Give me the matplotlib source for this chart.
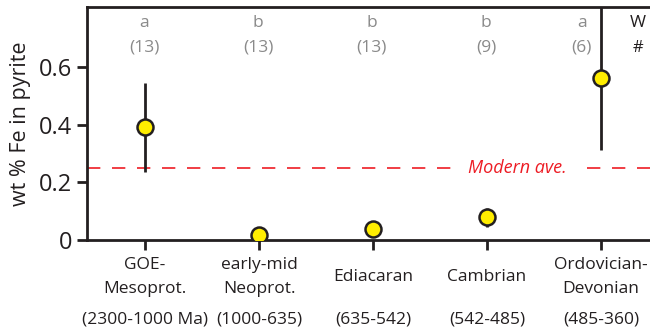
import matplotlib
matplotlib.use('Agg')
import matplotlib.pyplot as plt

plt.rcParams['font.family'] = ['Open Sans', 'DejaVu Sans']

# data
periods = ['GOE-\nMesoprot.', 'early-mid\nNeoprot.', 'Ediacaran', 'Cambrian', 'Ordovician-\nDevonian']
ages = ['(2300-1000 Ma)', '(1000-635)', '(635-542)', '(542-485)', '(485-360)']
fe_mean = [0.39, 0.017, 0.038, 0.08, 0.56]
err_low = [0.235, 0.005, 0.03, 0.045, 0.31]
err_high = [0.545, 0.03, 0.048, 0.11, 0.95]
letters = ['a', 'b', 'b', 'b', 'a']
counts = ['(13)', '(13)', '(13)', '(9)', '(6)']
modern_ave = 0.25

fig = plt.figure(figsize=(6.5, 3.32), dpi=100)
ax = fig.add_axes([87/650, 1 - 240/332, 1 - 87/650, 233/332])

x = list(range(len(periods)))
dark = '#231f20'
grey = '#8a8a8a'
yerr = [[m - lo for m, lo in zip(fe_mean, err_low)],
        [hi - m for m, hi in zip(fe_mean, err_high)]]
ax.errorbar(x, fe_mean, yerr=yerr, fmt='none', ecolor=dark, elinewidth=2.0, capsize=0, zorder=3)
ax.plot(x, fe_mean, 'o', ms=11.5, mfc='#ffed00', mec=dark, mew=1.8, zorder=4)

ax.axhline(modern_ave, color='#ed1c24', lw=1.2, dashes=(8, 7), zorder=1)
ax.text(3.27, modern_ave, 'Modern ave.', color='#ed1c24', style='italic', fontsize=13,
        ha='center', va='center', zorder=2,
        bbox=dict(facecolor='white', edgecolor='none', pad=7))

# significance letters and sample counts (last group sits left of its error bar)
label_x = [0, 1, 2, 3, 3.84]
for xi, let, n in zip(label_x, letters, counts):
    ax.text(xi - 0.01, 0.752, let, color=grey, fontsize=12.5, ha='center', va='center')
    ax.text(xi - 0.01, 0.665, n, color=grey, fontsize=12.5, ha='center', va='center')
ax.text(4.32, 0.752, 'W', color=dark, fontsize=12.5, ha='center', va='center')
ax.text(4.32, 0.665, '#', color=dark, fontsize=12, ha='center', va='center')

ax.set_xlim(-0.51, 4.43)
ax.set_ylim(0, 0.807)
ax.set_yticks([0, 0.2, 0.4, 0.6])
ax.set_yticklabels(['0', '0.2', '0.4', '0.6'], fontsize=17)
ax.set_xticks(x)
ax.set_xticklabels([])
# period names centred vertically in their row, ages in a row below
for xi, p, a in zip(x, periods, ages):
    ax.annotate(p, xy=(xi, 0), xycoords=('data', 'axes fraction'), xytext=(0, -37),
                textcoords='offset pixels', ha='center', va='center', fontsize=12.5,
                color=dark, linespacing=1.6)
    ax.annotate(a, xy=(xi, 0), xycoords=('data', 'axes fraction'), xytext=(0, -80),
                textcoords='offset pixels', ha='center', va='center', fontsize=12.5, color=dark)
ax.set_ylabel('wt % Fe in pyrite', fontsize=15.5, color=dark, labelpad=6)

ax.spines['right'].set_visible(False)
for s in ['left', 'bottom', 'top']:
    ax.spines[s].set_linewidth(2.0)
    ax.spines[s].set_color(dark)
ax.tick_params(axis='both', direction='out', length=7, width=2.0, color=dark, labelcolor=dark)

fig.savefig('out.png', dpi=100)
